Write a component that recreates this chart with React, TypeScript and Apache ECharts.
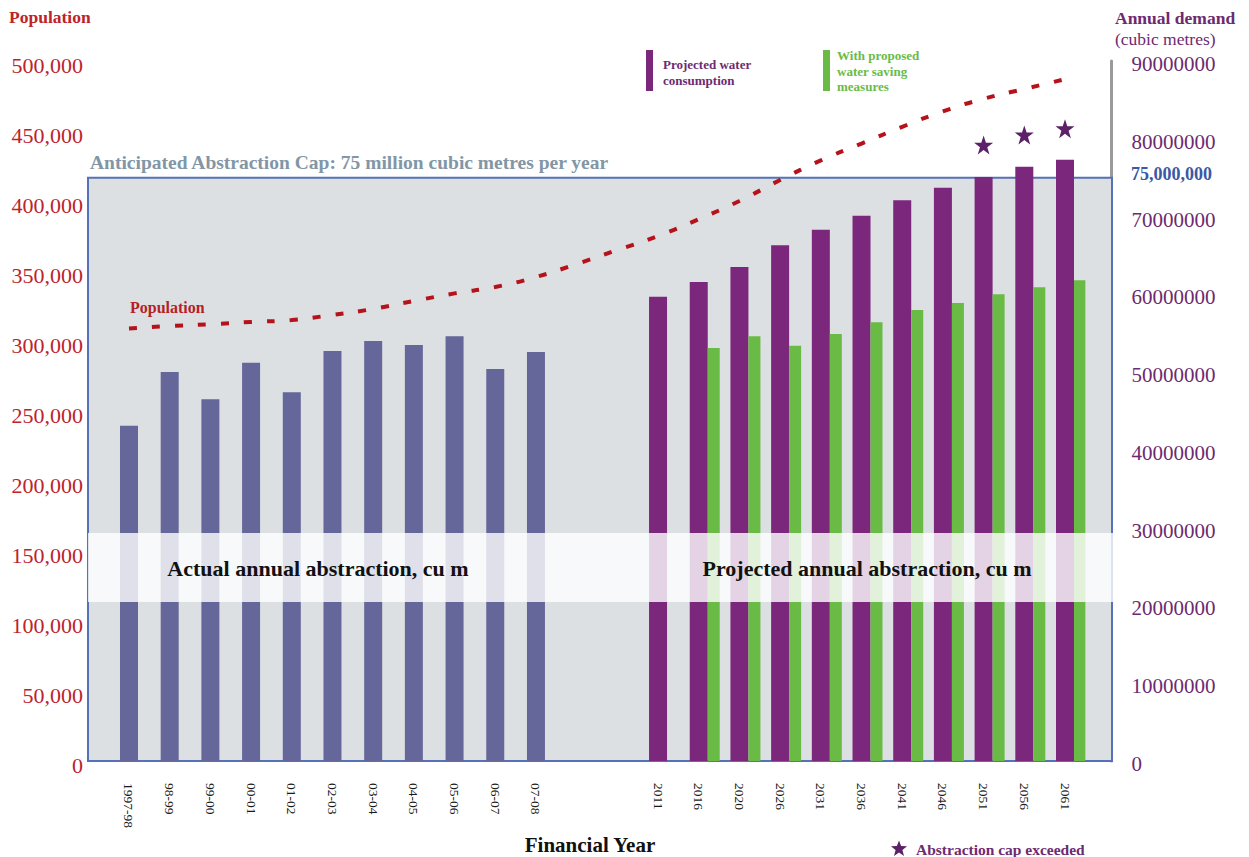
import React, { useEffect, useRef } from 'react';
import * as echarts from 'echarts';

// ---------- data ----------
const historicalYears = ['1997-98', '98-99', '99-00', '00-01', '01-02', '02-03', '03-04', '04-05', '05-06', '06-07', '07-08'];
const gapCategories = ['', ' '];
const projectedYears = ['2011', '2016', '2020', '2026', '2031', '2036', '2041', '2046', '2051', '2056', '2061'];

// annual abstraction, cubic metres (right axis)
const actualAbstraction = [43100000, 50000000, 46500000, 51200000, 47400000, 52700000, 54000000, 53500000, 54600000, 50400000, 52600000];
const projectedConsumption = [59700000, 61600000, 63500000, 66300000, 68300000, 70100000, 72100000, 73700000, 75100000, 76400000, 77300000];
const withSavingMeasures = [null, 53100000, 54600000, 53400000, 54900000, 56400000, 58000000, 58900000, 60000000, 60900000, 61800000];

// population (left axis), one value per category incl. the gap
const population = [309000, 310700, 312000, 313600, 315000, 318600, 322900, 328600, 334000, 338600, 345700, 355000, 365000, 375000, 387000, 400000, 415000, 429000, 441000, 453000, 464000, 473000, 480000, 487000];

// abstraction cap exceeded markers
const capExceededYears = ['2051', '2056', '2061'];
const capExceededMarkers = [79200000, 80500000, 81300000];

const populationTicks = { min: 0, max: 500000, interval: 50000 };
const demandTicks = { min: 0, max: 90000000, interval: 10000000 };
const abstractionCap = 75000000;

// ---------- layout ----------
const W = 1249;
const H = 857;
const TOP = 61;
const BOTTOM = 761;
const BOX_LEFT = 88;
const BOX_RIGHT = 1112;
const PLOT_LEFT = 108.65;
const PLOT_RIGHT = 1085.35;
const RIGHT_AXIS_X = 1111.5;
const FONT = "'Liberation Serif', 'Times New Roman', serif";
const RED = '#bd232b';
const PURPLE_TXT = '#6d2a70';

const categories = [...historicalYears, ...gapCategories, ...projectedYears];
const nulls = (n: number) => Array.from({ length: n }, () => null);

function starPoints(cx: number, cy: number, R: number, r: number) {
  const pts: number[][] = [];
  for (let i = 0; i < 10; i++) {
    const rad = i % 2 === 0 ? R : r;
    const a = -Math.PI / 2 + (i * Math.PI) / 5;
    pts.push([cx + rad * Math.cos(a), cy + rad * Math.sin(a)]);
  }
  return pts;
}

function txt(x: number, y: number, text: string, font: string, fill: string, align = 'left', extra: any = {}) {
  return {
    type: 'text',
    x,
    y,
    z: 60,
    silent: true,
    style: {
      text,
      font,
      fill,
      align,
      textAlign: align,
      verticalAlign: 'middle',
      textVerticalAlign: 'middle',
      ...extra,
    },
  };
}

export default function App() {
  const ref = useRef<HTMLDivElement>(null);

  useEffect(() => {
    document.body.style.margin = '0';
    if (!ref.current) return;
    const chart = echarts.init(ref.current, null, { renderer: 'svg' });

    const nGap = gapCategories.length;
    const actualData = [...actualAbstraction, ...nulls(nGap + projectedYears.length)];
    const projectedData = [...nulls(historicalYears.length + nGap), ...projectedConsumption];
    const savingData = [...nulls(historicalYears.length + nGap), ...withSavingMeasures];
    const starData = capExceededYears.map((y, i) => [y, capExceededMarkers[i]]);

    const boxTop = TOP + (1 - abstractionCap / demandTicks.max) * (BOTTOM - TOP);

    const option: any = {
      animation: false,
      textStyle: { fontFamily: FONT },
      grid: { left: PLOT_LEFT, right: W - PLOT_RIGHT, top: TOP, bottom: H - BOTTOM, containLabel: false },
      xAxis: {
        type: 'category',
        data: categories,
        boundaryGap: true,
        axisLine: { show: false },
        axisTick: { show: false },
        splitLine: { show: false },
        axisLabel: { interval: 0, rotate: -90, margin: 22, fontSize: 13.5, color: '#1a1a1a', fontFamily: FONT },
      },
      yAxis: [
        {
          type: 'value',
          position: 'left',
          offset: PLOT_LEFT - BOX_LEFT,
          ...populationTicks,
          axisLine: { show: false },
          axisTick: { show: false },
          splitLine: { show: false },
          axisLabel: {
            margin: 5,
            fontSize: 22,
            color: RED,
            fontFamily: FONT,
            verticalAlign: 'top',
            lineHeight: 8,
            formatter: (v: number) => v.toLocaleString('en-US'),
          },
        },
        {
          type: 'value',
          position: 'right',
          offset: RIGHT_AXIS_X - PLOT_RIGHT,
          ...demandTicks,
          axisLine: { show: true, lineStyle: { color: '#9a9a9a', width: 3 } },
          axisTick: { show: false },
          splitLine: { show: false },
          axisLabel: {
            margin: 20,
            fontSize: 21,
            color: PURPLE_TXT,
            fontFamily: FONT,
            verticalAlign: 'top',
            lineHeight: 6,
            formatter: (v: number) => String(v),
          },
        },
      ],
      series: [
        {
          name: 'spacer',
          type: 'bar',
          data: nulls(categories.length),
          barWidth: 12,
          barGap: '0%',
          silent: true,
          itemStyle: { color: 'rgba(0,0,0,0)' },
        },
        {
          name: 'Actual annual abstraction, cu m',
          type: 'bar',
          yAxisIndex: 1,
          stack: 'main',
          data: actualData,
          barWidth: 18,
          barGap: '0%',
          itemStyle: { color: '#656699' },
          z: 2,
        },
        {
          name: 'Projected water consumption',
          type: 'bar',
          yAxisIndex: 1,
          stack: 'main',
          data: projectedData,
          barWidth: 18,
          barGap: '0%',
          itemStyle: { color: '#7b277b' },
          z: 2,
        },
        {
          name: 'With proposed water saving measures',
          type: 'bar',
          yAxisIndex: 1,
          data: savingData,
          barWidth: 12,
          barGap: '0%',
          itemStyle: { color: '#6abb46' },
          z: 2,
        },
        {
          name: 'Population',
          type: 'line',
          yAxisIndex: 0,
          data: population,
          smooth: true,
          symbol: 'none',
          lineStyle: { color: '#b5121b', width: 4, type: [8, 15], cap: 'butt' },
          z: 4,
        },
        {
          name: 'Abstraction cap exceeded',
          type: 'scatter',
          yAxisIndex: 1,
          data: starData,
          symbol: 'path://M12,0 L14.9,8.6 L24,8.6 L16.6,14 L19.4,22.8 L12,17.5 L4.6,22.8 L7.4,14 L0,8.6 L9.1,8.6 Z',
          symbolSize: 19,
          itemStyle: { color: '#5c2167', opacity: 1 },
          z: 5,
        },
      ],
      graphic: [
        {
          type: 'rect',
          z: 1,
          silent: true,
          shape: { x: BOX_LEFT, y: boxTop, width: BOX_RIGHT - BOX_LEFT, height: BOTTOM - boxTop },
          style: { fill: '#dce0e3', stroke: '#5571b7', lineWidth: 2 },
        },
        {
          type: 'rect',
          z: 50,
          silent: true,
          shape: { x: BOX_LEFT, y: 533, width: BOX_RIGHT - BOX_LEFT + 1, height: 69 },
          style: { fill: 'rgba(255,255,255,0.8)' },
        },
        txt(318, 568, 'Actual annual abstraction, cu m', `bold 22px ${FONT}`, '#111111', 'center'),
        txt(867, 568, 'Projected annual abstraction, cu m', `bold 22px ${FONT}`, '#111111', 'center'),
        txt(9, 17, 'Population', `bold 17.5px ${FONT}`, RED),
        txt(1115, 18, 'Annual demand', `bold 17.5px ${FONT}`, PURPLE_TXT),
        txt(1115, 39, '(cubic metres)', `17.5px ${FONT}`, PURPLE_TXT),
        txt(1131, 174, '75,000,000', `bold 18px ${FONT}`, '#3b58a5'),
        txt(90, 162, 'Anticipated Abstraction Cap: 75 million cubic metres per year', `bold 19.5px ${FONT}`, '#8296a5'),
        {
          type: 'rect',
          z: 60,
          silent: true,
          shape: { x: 646, y: 50, width: 7, height: 41 },
          style: { fill: '#7b277b' },
        },
        txt(663, 72, 'Projected water\nconsumption', `bold 13px ${FONT}`, '#6e2a72', 'left', { lineHeight: 16 }),
        {
          type: 'rect',
          z: 60,
          silent: true,
          shape: { x: 823, y: 50, width: 7, height: 41 },
          style: { fill: '#6abb46' },
        },
        txt(837, 71, 'With proposed\nwater saving\nmeasures', `bold 13px ${FONT}`, '#6abb46', 'left', { lineHeight: 15.5 }),
        txt(130, 307, 'Population', `bold 16px ${FONT}`, '#b61f28'),
        txt(590, 845, 'Financial Year', `bold 21px ${FONT}`, '#111111', 'center'),
        {
          type: 'polygon',
          z: 60,
          silent: true,
          shape: { points: starPoints(899, 849, 8.5, 3.6) },
          style: { fill: '#5c2167' },
        },
        txt(916, 849, 'Abstraction cap exceeded', `bold 15.5px ${FONT}`, '#6e2a72'),
      ],
    };

    chart.setOption(option);
    return () => chart.dispose();
  }, []);

  return <div ref={ref} style={{ width: W, height: H }} />;
}
